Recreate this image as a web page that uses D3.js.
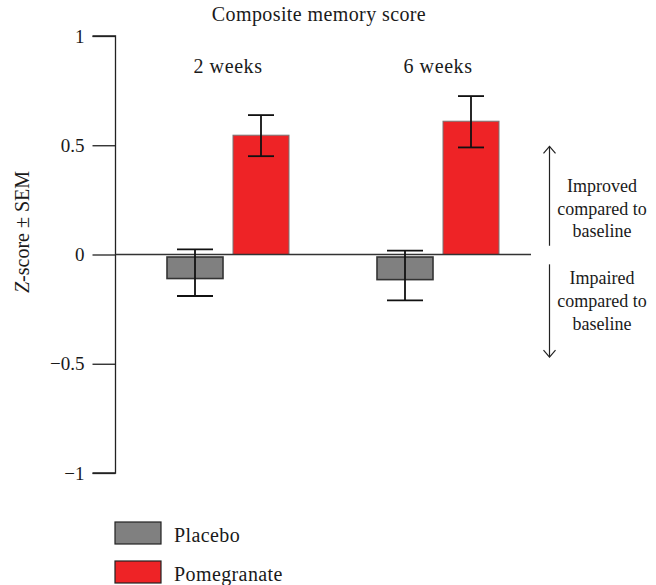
<!DOCTYPE html>
<html>
<head>
<meta charset="utf-8">
<script src="https://cdn.jsdelivr.net/npm/d3@7"></script>
<style>
  html, body { margin: 0; padding: 0; background: #fff; }
  text { font-family: "Liberation Serif", "DejaVu Serif", serif; fill: #1a1a1a; }
</style>
</head>
<body>
<svg id="chart" width="656" height="585"></svg>
<script>
// ---- data ----
const groups = ["2 weeks", "6 weeks"];
const series = ["Placebo", "Pomegranate"];
const placeboMean = [-0.11, -0.115];
const placeboErrHi = [0.023, 0.018];
const placeboErrLo = [-0.19, -0.21];
const pomegranateMean = [0.546, 0.61];
const pomegranateErrHi = [0.638, 0.725];
const pomegranateErrLo = [0.45, 0.49];
const yTicks = [-1, -0.5, 0, 0.5, 1];
const title = "Composite memory score";
const yLabel = "-score \u00B1 SEM";
const improvedLines = ["Improved", "compared to", "baseline"];
const impairedLines = ["Impaired", "compared to", "baseline"];

// ---- style ----
const colors = { Placebo: "#808080", Pomegranate: "#ee2326" };
const strokes = { Placebo: "#333", Pomegranate: "#777" };
const capW = { Placebo: 36, Pomegranate: 26 };

const svg = d3.select("#chart");
const fmt = v => v === 0 ? "0" : (v < 0 ? "\u2212" + Math.abs(v) : String(v));

const y = d3.scaleLinear().domain([-1, 1]).range([473, 36]);
const x0 = d3.scaleBand().domain(groups).range([167, 587]).padding(0);
const x1 = d3.scaleBand().domain(series).range([0, 122]).paddingInner(0.1515);

const rows = [];
groups.forEach((g, i) => {
  rows.push({ g, s: "Placebo", v: placeboMean[i], hi: placeboErrHi[i], lo: placeboErrLo[i] });
  rows.push({ g, s: "Pomegranate", v: pomegranateMean[i], hi: pomegranateErrHi[i], lo: pomegranateErrLo[i] });
});

// title
svg.append("text").attr("x", 319).attr("y", 21).attr("text-anchor", "middle")
  .attr("font-size", 20).attr("letter-spacing", 0.4).text(title);

// y axis
const axisX = 115.5;
const yAxis = d3.axisLeft(y).tickValues(yTicks).tickFormat(fmt).tickSize(23).tickPadding(8);
const ag = svg.append("g").attr("transform", `translate(${axisX},0)`).call(yAxis);
ag.select(".domain").attr("d", `M-23,${y(1)}H0V${y(-1)}H-23`).attr("stroke", "#222").attr("stroke-width", 1.3);
ag.selectAll(".tick line").attr("stroke", "#222").attr("stroke-width", 1.3);
ag.selectAll(".tick text").attr("font-family", "Liberation Serif, serif").attr("font-size", 19).attr("fill", "#1a1a1a");

// y label
const yl = svg.append("text").attr("transform", `translate(29,${232}) rotate(-90)`)
  .attr("text-anchor", "middle").attr("font-size", 20);
yl.append("tspan").attr("font-style", "italic").text("Z");
yl.append("tspan").text(yLabel);

// group labels
groups.forEach(g => {
  svg.append("text").attr("x", x0(g) + 61).attr("y", 73).attr("text-anchor", "middle")
    .attr("font-size", 20).attr("letter-spacing", 0.6).text(g);
});

// bars
svg.append("g").selectAll("rect").data(rows).join("rect")
  .attr("x", d => x0(d.g) + x1(d.s))
  .attr("width", x1.bandwidth())
  .attr("y", d => d.v >= 0 ? y(d.v) : y(0) + 2.5)
  .attr("height", d => d.v >= 0 ? y(0) - y(d.v) : y(d.v) - y(0) - 2.5)
  .attr("fill", d => colors[d.s])
  .attr("stroke", d => strokes[d.s])
  .attr("stroke-width", d => d.s === "Placebo" ? 1.6 : 1);

// zero line
svg.append("line").attr("x1", axisX).attr("x2", 531).attr("y1", y(0)).attr("y2", y(0))
  .attr("stroke", "#333").attr("stroke-width", 1.3);

// error bars
const eg = svg.append("g").attr("stroke", "#111").attr("stroke-width", 1.8);
rows.forEach(d => {
  const cx = x0(d.g) + x1(d.s) + x1.bandwidth() / 2;
  eg.append("line").attr("x1", cx).attr("x2", cx).attr("y1", y(d.hi)).attr("y2", y(d.lo));
  eg.append("line").attr("x1", cx - capW[d.s] / 2).attr("x2", cx + capW[d.s] / 2).attr("y1", y(d.hi)).attr("y2", y(d.hi));
  eg.append("line").attr("x1", cx - capW[d.s] / 2).attr("x2", cx + capW[d.s] / 2).attr("y1", y(d.lo)).attr("y2", y(d.lo));
});

// annotation arrows
const arrX = 549.5;
const ar = svg.append("g").attr("stroke", "#222").attr("stroke-width", 1.2).attr("fill", "none");
ar.append("line").attr("x1", arrX).attr("x2", arrX).attr("y1", y(0.495)).attr("y2", y(0.04));
ar.append("path").attr("d", `M${arrX - 6},${y(0.495) + 7}L${arrX},${y(0.495)}L${arrX + 6},${y(0.495) + 7}`);
ar.append("line").attr("x1", arrX).attr("x2", arrX).attr("y1", y(-0.045)).attr("y2", y(-0.47));
ar.append("path").attr("d", `M${arrX - 6},${y(-0.47) - 7}L${arrX},${y(-0.47)}L${arrX + 6},${y(-0.47) - 7}`);

improvedLines.forEach((t, i) => {
  svg.append("text").attr("x", 602).attr("y", 192 + i * 22.5).attr("text-anchor", "middle")
    .attr("font-size", 18).text(t);
});
impairedLines.forEach((t, i) => {
  svg.append("text").attr("x", 602).attr("y", 284 + i * 23).attr("text-anchor", "middle")
    .attr("font-size", 18).text(t);
});

// legend
series.forEach((s, i) => {
  const ly = 522 + i * 39;
  svg.append("rect").attr("x", 115).attr("y", ly).attr("width", 46).attr("height", 22)
    .attr("fill", colors[s]).attr("stroke", "#222").attr("stroke-width", 1.2);
  svg.append("text").attr("x", 174).attr("y", ly + 20).attr("font-size", 20).attr("letter-spacing", 0.4).text(s);
});
</script>
</body>
</html>
